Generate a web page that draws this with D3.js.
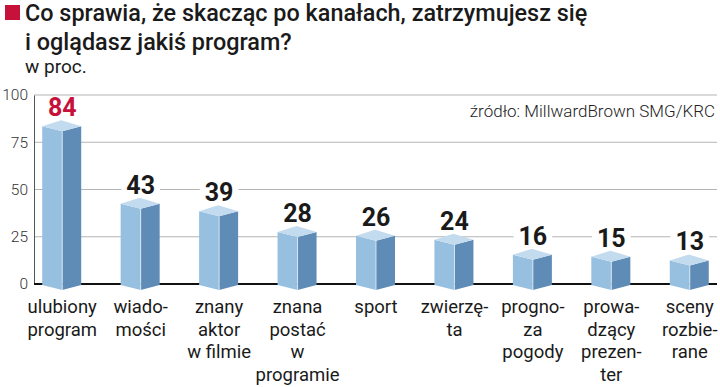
<!DOCTYPE html>
<html>
<head>
<meta charset="utf-8">
<script src="https://cdn.jsdelivr.net/npm/d3@7"></script>
<style>
  body { margin: 0; background: #fff; }
  svg { display: block; font-family: Roboto, "Noto Sans", sans-serif; }
</style>
</head>
<body>
<div id="chart"></div>
<script>
// Data
var categories = [
  ["ulubiony", "program"],
  ["wiado-", "mości"],
  ["znany", "aktor", "w filmie"],
  ["znana", "postać", "w", "programie"],
  ["sport"],
  ["zwierzę-", "ta"],
  ["progno-", "za", "pogody"],
  ["prowa-", "dzący", "prezen-", "ter"],
  ["sceny", "rozbie-", "rane"]
];
var values = [84, 43, 39, 28, 26, 24, 16, 15, 13];
var yTicks = [0, 25, 50, 75, 100];

var svgWidth = 720;
var svgHeight = 387;

var svg = d3.select("#chart")
  .append("svg")
  .attr("width", svgWidth)
  .attr("height", svgHeight);

// Title
svg.append("rect")
  .attr("x", 5).attr("y", 5)
  .attr("width", 15).attr("height", 15)
  .attr("fill", "#c6123a");

svg.append("text")
  .attr("x", 25).attr("y", 21)
  .attr("font-size", 23.4).attr("font-weight", 500)
  .attr("fill", "#1a1a1a")
  .text("Co sprawia, że skacząc po kanałach, zatrzymujesz się");

svg.append("text")
  .attr("x", 25).attr("y", 50)
  .attr("font-size", 23.4).attr("font-weight", 500)
  .attr("fill", "#1a1a1a")
  .text("i oglądasz jakiś program?");

svg.append("text")
  .attr("x", 25).attr("y", 73)
  .attr("font-size", 19)
  .attr("fill", "#1a1a1a")
  .text("w proc.");

// Scales
var names = categories.map(d => d.join(" "));

var x = d3.scaleBand()
  .domain(names)
  .range([23, 729])
  .padding(0);

var y = d3.scaleLinear()
  .domain([0, 100])
  .range([284, 95]);

var axisX = 34;

// Gridlines
svg.append("g")
  .selectAll("line")
  .data(yTicks.filter(t => t > 0))
  .enter()
  .append("line")
  .attr("x1", axisX).attr("x2", 717)
  .attr("y1", d => y(d)).attr("y2", d => y(d))
  .attr("stroke", "#b5b5b5")
  .attr("stroke-width", 1);

// y axis
var leftAxis = d3.axisLeft(y)
  .tickValues(yTicks)
  .tickSize(0)
  .tickPadding(6);

var yAxis = svg.append("g")
  .attr("transform", `translate(${axisX}, 0)`)
  .call(leftAxis);

yAxis.select(".domain")
  .attr("stroke", "#555")
  .attr("stroke-width", 1);

yAxis.selectAll("text")
  .attr("font-family", "Roboto, sans-serif")
  .attr("font-size", 15.5)
  .attr("font-weight", 300)
  .attr("fill", "#333");

// source
svg.append("text")
  .attr("x", 715).attr("y", 117)
  .attr("text-anchor", "end")
  .attr("font-size", 17)
  .attr("font-weight", 300)
  .attr("fill", "#222")
  .text("źródło: MillwardBrown SMG/KRC");

// baseline
svg.append("line")
  .attr("x1", axisX).attr("x2", 717)
  .attr("y1", y(0)).attr("y2", y(0))
  .attr("stroke", "#111")
  .attr("stroke-width", 2);

// Bars (3D style)
var wl = 20, wr = 19;
var data = names.map((n, i) => ({ name: n, value: values[i], lines: categories[i] }));

var bars = svg.append("g")
  .selectAll("g")
  .data(data)
  .enter()
  .append("g");

function cx(d) { return x(d.name) + x.bandwidth() / 2; }

// left face
bars.append("path")
  .attr("d", d => {
    var c = cx(d), t = y(d.value), b = y(0);
    return `M${c - wl},${t + 1}L${c},${t + 6}L${c},${b + 6}L${c - wl},${b + 1}Z`;
  })
  .attr("fill", "#96bfe0");

// right face
bars.append("path")
  .attr("d", d => {
    var c = cx(d), t = y(d.value), b = y(0);
    return `M${c},${t + 6}L${c + wr},${t + 1}L${c + wr},${b + 1}L${c},${b + 6}Z`;
  })
  .attr("fill", "#5f8cb6");

// top face
bars.append("path")
  .attr("d", d => {
    var c = cx(d), t = y(d.value);
    return `M${c - wl},${t + 1}L${c - 1},${t - 5}L${c + wr},${t + 1}L${c},${t + 6}Z`;
  })
  .attr("fill", "#c3dbef");

// front edge highlight
bars.append("line")
  .attr("x1", d => cx(d)).attr("x2", d => cx(d))
  .attr("y1", d => y(d.value) + 6).attr("y2", y(0) + 6)
  .attr("stroke", "#e8f1f9")
  .attr("stroke-width", 0.8);

// value labels with white background
var valueLabels = bars.append("g");

valueLabels.append("rect")
  .attr("fill", "#fff");

valueLabels.append("text")
  .attr("x", d => cx(d))
  .attr("y", d => y(d.value) - 9)
  .attr("text-anchor", "middle")
  .attr("font-size", 25)
  .attr("font-weight", 700)
  .attr("fill", (d, i) => i === 0 ? "#c6123a" : "#1a1a1a")
  .text(d => d.value);

valueLabels.each(function() {
  var g = d3.select(this);
  var bb = g.select("text").node().getBBox();
  g.select("rect")
    .attr("x", bb.x - 5).attr("y", bb.y + 3)
    .attr("width", bb.width + 10).attr("height", bb.height - 6);
});

// category labels
var catLabels = bars.append("text")
  .attr("text-anchor", "middle")
  .attr("font-size", 18.5)
  .attr("fill", "#1a1a1a");

catLabels.selectAll("tspan")
  .data(d => d.lines.map(l => ({ line: l, c: cx(d) })))
  .enter()
  .append("tspan")
  .attr("x", d => d.c)
  .attr("y", (d, i) => 313 + i * 22.5)
  .text(d => d.line);
</script>
</body>
</html>
